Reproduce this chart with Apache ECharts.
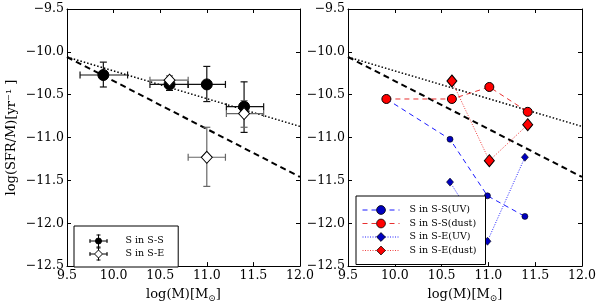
<!DOCTYPE html>
<html><head><meta charset="utf-8">
<script src="https://cdn.jsdelivr.net/npm/echarts@6/dist/echarts.min.js"></script>
<style>html,body{margin:0;padding:0;background:#fff}#c{width:600px;height:308px}</style>
</head><body><div id="c"></div>
<script>
// ---- axes ----
const xMin = 9.5, xMax = 12.0, xStep = 0.5;
const yMin = -12.5, yMax = -9.5, yStep = 0.5;
const xTitle = 'log(M)[M{sub|\u2299}]';
const yTitle = 'log(SFR/M)[yr\u207B\u00B9 ]';

// ---- left panel: S in S-S (filled circles) ----
const ssX   = [9.89, 10.60, 11.00, 11.40];
const ssY   = [-10.27, -10.38, -10.38, -10.64];
const ssXlo = [9.64, 10.39, 10.80, 11.21];
const ssXhi = [10.15, 10.80, 11.20, 11.61];
const ssYlo = [-10.41, -10.45, -10.58, -10.94];
const ssYhi = [-10.12, -10.33, -10.17, -10.35];
// ---- left panel: S in S-E (open diamonds) ----
const seX   = [10.60, 11.00, 11.40];
const seY   = [-10.33, -11.23, -10.72];
const seXlo = [10.39, 10.80, 11.21];
const seXhi = [10.80, 11.20, 11.61];
const seYlo = [-10.38, -11.57, -10.88];
const seYhi = [-10.28, -10.88, -10.57];

// ---- reference relations (both panels) ----
const dotX = [9.5, 12.0], dotY = [-10.06, -10.87];
const dashX = [9.5, 12.0], dashY = [-10.06, -11.46];

// ---- right panel ----
const ssUVx = [9.91, 10.59, 10.99, 11.39];
const ssUVy = [-10.55, -11.02, -11.68, -11.92];
const ssDx  = [9.91, 10.61, 11.01, 11.42];
const ssDy  = [-10.55, -10.55, -10.41, -10.70];
const seUVx = [10.59, 10.99, 11.39];
const seUVy = [-11.52, -12.21, -11.23];
const seDx  = [10.61, 11.01, 11.42];
const seDy  = [-10.34, -11.27, -10.85];

const FONT = '"DejaVu Serif", serif';
const zip = (a, b) => a.map((v, i) => [v, b[i]]);
const fmt = v => (v < 0 ? '\u2212' : '') + Math.abs(v).toFixed(1);

function errRender(color) {
  return function (params, api) {
    const x = api.value(0), y = api.value(1);
    const l = api.coord([api.value(2), y]), r = api.coord([api.value(3), y]);
    const b = api.coord([x, api.value(4)]), t = api.coord([x, api.value(5)]);
    const cap = 3.5;
    const style = { stroke: color, lineWidth: 1.2 };
    const ln = (x1, y1, x2, y2) => ({ type: 'line', shape: { x1, y1, x2, y2 }, style });
    return { type: 'group', children: [
      ln(l[0], l[1], r[0], r[1]),
      ln(l[0], l[1] - cap, l[0], l[1] + cap),
      ln(r[0], r[1] - cap, r[0], r[1] + cap),
      ln(b[0], b[1], t[0], t[1]),
      ln(b[0] - cap, b[1], b[0] + cap, b[1]),
      ln(t[0] - cap, t[1], t[0] + cap, t[1])
    ]};
  };
}

function xAx(grid, pos, labels) {
  return {
    gridIndex: grid, type: 'value', position: pos, min: xMin, max: xMax, interval: xStep,
    axisLine: { show: true, onZero: false, lineStyle: { color: '#000', width: 1 } },
    axisTick: { show: true, inside: true, length: 4, lineStyle: { color: '#000' } },
    splitLine: { show: false },
    axisLabel: { show: labels, formatter: fmt, color: '#000', fontFamily: FONT, fontSize: 12.5, margin: 3 },
    name: labels ? xTitle : '', nameLocation: 'middle', nameGap: 15,
    nameTextStyle: { color: '#000', fontFamily: FONT, fontSize: 13, lineHeight: 16,
      rich: { sub: { fontSize: 9, fontFamily: FONT, verticalAlign: 'bottom', lineHeight: 9 } } }
  };
}
function yAx(grid, pos, labels, withName) {
  return {
    gridIndex: grid, type: 'value', position: pos, min: yMin, max: yMax, interval: yStep,
    axisLine: { show: true, onZero: false, lineStyle: { color: '#000', width: 1 } },
    axisTick: { show: true, inside: true, length: 4, lineStyle: { color: '#000' } },
    splitLine: { show: false },
    axisLabel: { show: labels, formatter: fmt, color: '#000', fontFamily: FONT, fontSize: 12.5, margin: 3 },
    name: withName ? yTitle : '', nameLocation: 'middle', nameGap: 49,
    nameTextStyle: { color: '#000', fontFamily: FONT, fontSize: 13 }
  };
}

const iconFilled = 'path://M0 6.5 H18 M0.5 4.5 V8.5 M17.5 4.5 V8.5 M9 0 V13 M7 0.5 H11 M7 12.5 H11 M12 6.5 A3 3 0 1 1 6 6.5 A3 3 0 1 1 12 6.5 Z';
const iconDiam = 'path://M0 6.5 H5 M13 6.5 H18 M0.5 4.5 V8.5 M17.5 4.5 V8.5 M9 0 V2.5 M9 10.5 V13 M7 0.5 H11 M7 12.5 H11 M9 2.5 L13 6.5 L9 10.5 L5 6.5 Z';

function refLines(grid) {
  return [
    { type: 'line', xAxisIndex: grid * 2, yAxisIndex: grid * 2, data: zip(dotX, dotY), showSymbol: false, silent: true,
      lineStyle: { color: '#000', width: 1.5, type: [1.5, 2] }, z: 1 },
    { type: 'line', xAxisIndex: grid * 2, yAxisIndex: grid * 2, data: zip(dashX, dashY), showSymbol: false, silent: true,
      lineStyle: { color: '#000', width: 2, type: [6, 4] }, z: 1 }
  ];
}

const chart = echarts.init(document.getElementById('c'), null, { renderer: 'canvas' });
chart.setOption({
  animation: false,
  backgroundColor: '#fff',
  grid: [
    { left: 67, top: 9, width: 233, height: 266 },
    { left: 348, top: 9, width: 234, height: 266 }
  ],
  xAxis: [xAx(0, 'bottom', true), xAx(0, 'top', false), xAx(1, 'bottom', true), xAx(1, 'top', false)],
  yAxis: [yAx(0, 'left', true, true), yAx(0, 'right', false, false), yAx(1, 'left', true, false), yAx(1, 'right', false, false)],
  legend: [
    { left: 74, top: 226, orient: 'vertical', padding: [8, 14, 6, 15], itemWidth: 18, itemHeight: 13, itemGap: -1,
      borderColor: '#000', borderWidth: 1, backgroundColor: '#fff',
      itemStyle: { borderWidth: 1 },
      textStyle: { fontFamily: FONT, fontSize: 9.5, color: '#000', padding: [0, 0, 0, 13] },
      data: [{ name: 'S in S-S', icon: iconFilled }, { name: 'S in S-E', icon: iconDiam }] },
    { left: 356, top: 196, orient: 'vertical', padding: [9, 9, 9, 6], itemWidth: 37, itemHeight: 11, itemGap: 3.5,
      borderColor: '#000', borderWidth: 1, backgroundColor: '#fff',
      itemStyle: { borderWidth: 0.8 },
      lineStyle: { width: 1 },
      textStyle: { fontFamily: FONT, fontSize: 9.5, color: '#000', padding: [0, 0, 0, 5] },
      data: ['S in S-S(UV)', 'S in S-S(dust)', 'S in S-E(UV)', 'S in S-E(dust)'] }
  ],
  series: [
    ...refLines(0),
    { type: 'custom', name: 'errSS', xAxisIndex: 0, yAxisIndex: 0, renderItem: errRender('#111'), z: 2,
      encode: { x: [0, 2, 3], y: [1, 4, 5] },
      data: ssX.map((v, i) => [v, ssY[i], ssXlo[i], ssXhi[i], ssYlo[i], ssYhi[i]]) },
    { type: 'custom', name: 'errSE', xAxisIndex: 0, yAxisIndex: 0, renderItem: errRender('#666'), z: 2,
      encode: { x: [0, 2, 3], y: [1, 4, 5] },
      data: seX.map((v, i) => [v, seY[i], seXlo[i], seXhi[i], seYlo[i], seYhi[i]]) },
    { type: 'scatter', name: 'S in S-S', xAxisIndex: 0, yAxisIndex: 0, data: zip(ssX, ssY), symbol: 'circle', symbolSize: 11,
      itemStyle: { color: '#000', borderColor: '#000', borderWidth: 1, opacity: 1 }, z: 3 },
    { type: 'scatter', name: 'S in S-E', xAxisIndex: 0, yAxisIndex: 0, data: zip(seX, seY), symbol: 'diamond', symbolSize: [11, 12],
      itemStyle: { color: '#fff', borderColor: '#000', borderWidth: 1, opacity: 1 }, z: 4 },

    ...refLines(1),
    { type: 'line', name: 'S in S-S(UV)', xAxisIndex: 2, yAxisIndex: 2, data: zip(ssUVx, ssUVy), symbol: 'circle', symbolSize: 6,
      lineStyle: { color: '#1a1aff', width: 1, type: [5, 4] },
      itemStyle: { color: '#0000c0', borderColor: '#000', borderWidth: 0.6 }, z: 3 },
    { type: 'line', name: 'S in S-S(dust)', xAxisIndex: 2, yAxisIndex: 2, data: zip(ssDx, ssDy), symbol: 'circle', symbolSize: 9,
      lineStyle: { color: '#e83030', width: 1, type: [5, 4] },
      itemStyle: { color: '#ff0000', borderColor: '#000', borderWidth: 1 }, z: 4 },
    { type: 'line', name: 'S in S-E(UV)', xAxisIndex: 2, yAxisIndex: 2, data: zip(seUVx, seUVy), symbol: 'diamond', symbolSize: [7, 8],
      lineStyle: { color: '#2020ff', width: 1, type: [1, 1.5] },
      itemStyle: { color: '#0000c0', borderColor: '#000', borderWidth: 0.6 }, z: 3 },
    { type: 'line', name: 'S in S-E(dust)', xAxisIndex: 2, yAxisIndex: 2, data: zip(seDx, seDy), symbol: 'diamond', symbolSize: [10, 12],
      lineStyle: { color: '#f04040', width: 1, type: [1, 1.5] },
      itemStyle: { color: '#ff0000', borderColor: '#000', borderWidth: 1 }, z: 4 }
  ]
});
</script></body></html>
